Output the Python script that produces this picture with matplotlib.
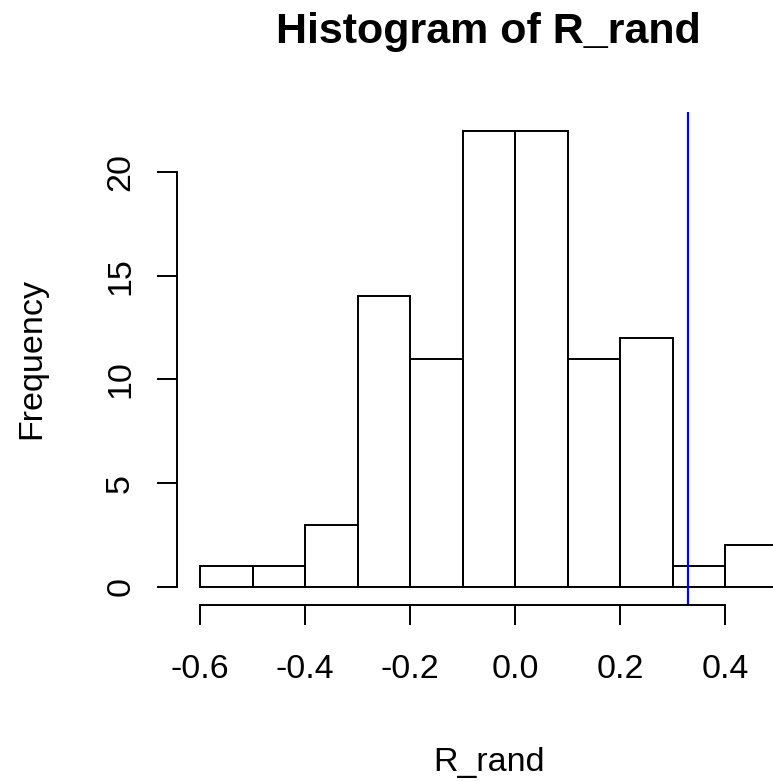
import matplotlib
matplotlib.use("Agg")
import matplotlib.pyplot as plt
import numpy as np

# Data
bin_edges = [-0.6, -0.5, -0.4, -0.3, -0.2, -0.1, 0.0, 0.1, 0.2, 0.3, 0.4, 0.5]
counts = [1, 1, 3, 14, 11, 22, 22, 11, 12, 1, 2]
observed_value = 0.329
x_ticks = [-0.6, -0.4, -0.2, 0.0, 0.2, 0.4]
x_tick_labels = ["-0.6", "-0.4", "-0.2", "0.0", "0.2", "0.4"]
y_ticks = [0, 5, 10, 15, 20]
y_tick_labels = ["0", "5", "10", "15", "20"]
title_text = "Histogram of R_rand"
x_label = "R_rand"
y_label = "Frequency"

plt.rcParams['font.family'] = ['Liberation Sans', 'DejaVu Sans']
plt.rcParams['axes.unicode_minus'] = False

W, H = 773, 781
fig = plt.figure(figsize=(W / 100, H / 100), dpi=100)

# plot region (R-style 4% extension)
xmin, xmax = bin_edges[0], bin_edges[-1]
ymax_data = max(counts)
xr = xmax - xmin
xlim = (xmin - 0.04 * xr, xmax + 0.04 * xr)
ylim = (-0.04 * ymax_data, ymax_data * 1.04)

left_px, right_px = 177.0, 800.6
top_px, bottom_px = 112.3, 605.0
ax = fig.add_axes([left_px / W, (H - bottom_px) / H,
                   (right_px - left_px) / W, (bottom_px - top_px) / H])
ax.set_xlim(*xlim)
ax.set_ylim(*ylim)

lw = 1.4
lefts = bin_edges[:-1]
widths = np.diff(bin_edges)
ax.bar(lefts, counts, width=widths, align='edge', fill=False,
       edgecolor='black', linewidth=lw)
ax.axvline(observed_value, color='#0000FF', linewidth=lw + 0.2)

for s in ['top', 'right']:
    ax.spines[s].set_visible(False)
ax.spines['left'].set_bounds(y_ticks[0], y_ticks[-1])
ax.spines['bottom'].set_bounds(x_ticks[0], x_ticks[-1])
ax.spines['left'].set_linewidth(lw)
ax.spines['bottom'].set_linewidth(lw)

ax.set_xticks(x_ticks)
ax.set_xticklabels(x_tick_labels)
ax.set_yticks(y_ticks)
ax.set_yticklabels(y_tick_labels)
ax.tick_params(axis='both', length=14.4, width=lw, labelsize=24.5, direction='out')
ax.tick_params(axis='x', pad=21)
ax.tick_params(axis='y', pad=15)
for lab in ax.get_yticklabels():
    lab.set_rotation(90)
    lab.set_va('center')

cx = (left_px + right_px) / 2 / W
fig.text(cx, (H - 42.7) / H, title_text, fontsize=31, fontweight='bold',
         ha='center', va='baseline')
fig.text(cx, (H - 770.5) / H, x_label, fontsize=24.5, ha='center', va='baseline')
fig.text(40 / W, (H - (top_px + bottom_px) / 2) / H, y_label, fontsize=24.5,
         rotation=90, rotation_mode='anchor', ha='center', va='baseline')

fig.savefig("out.png", dpi=100)
